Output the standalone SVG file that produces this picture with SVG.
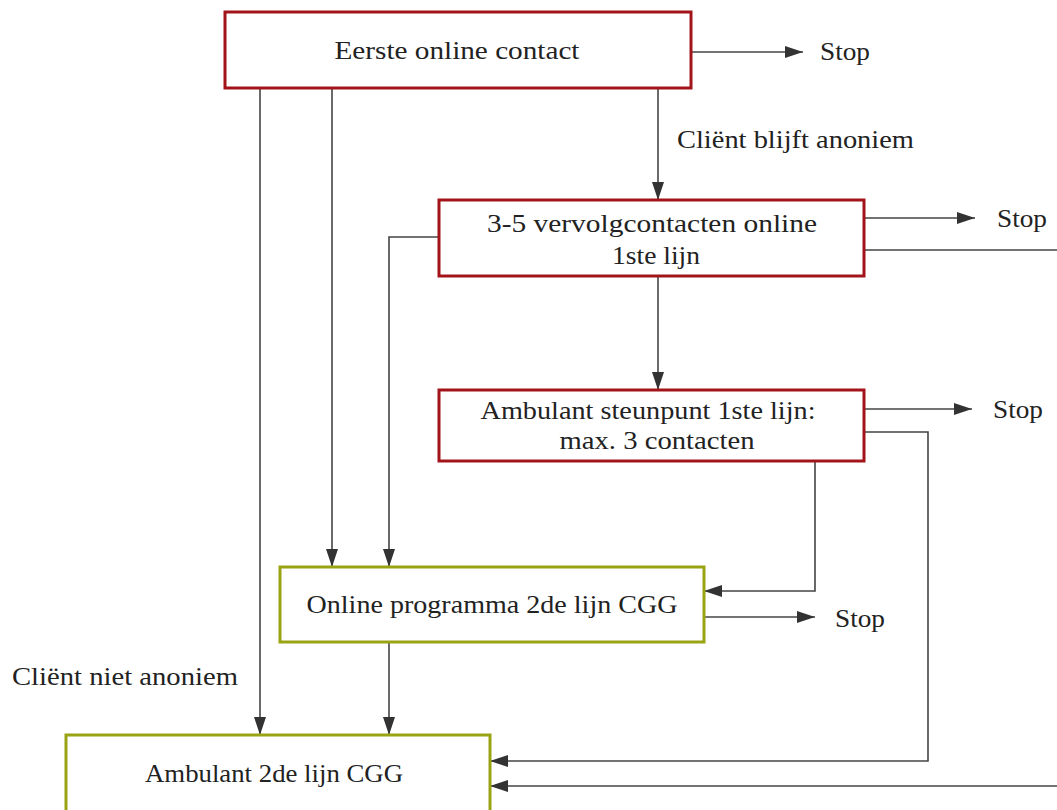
<svg xmlns="http://www.w3.org/2000/svg" width="1057" height="810" viewBox="0 0 1057 810">
<style>
.red{fill:#fff;stroke:#a3141a;stroke-width:3}
.grn{fill:#fff;stroke:#9aa312;stroke-width:3}
.t{font-family:"Liberation Serif",serif;font-size:26px;fill:#222;text-anchor:middle}
.l{font-family:"Liberation Serif",serif;font-size:26px;fill:#222}
.c{fill:none;stroke:#444;stroke-width:1.6}
</style>
<defs>
<marker id="a" viewBox="0 0 18 12" refX="18" refY="6" markerWidth="18" markerHeight="12" markerUnits="userSpaceOnUse" orient="auto">
<path d="M0,0 L18,6 L0,12 Z" fill="#333"/>
</marker>
</defs>
<rect width="1057" height="810" fill="#fff"/>
<g id="connectors">
<path class="c" d="M691,52 H803" marker-end="url(#a)"/>
<path class="c" d="M658,88 V200" marker-end="url(#a)"/>
<path class="c" d="M260,88 V735" marker-end="url(#a)"/>
<path class="c" d="M332,88 V567" marker-end="url(#a)"/>
<path class="c" d="M439,237 H389 V567" marker-end="url(#a)"/>
<path class="c" d="M864,218 H975" marker-end="url(#a)"/>
<path class="c" d="M864,250 H1060"/>
<path class="c" d="M1060,786 H490" marker-end="url(#a)"/>
<path class="c" d="M658,276 V390" marker-end="url(#a)"/>
<path class="c" d="M864,409 H972" marker-end="url(#a)"/>
<path class="c" d="M864,432 H928 V761 H490" marker-end="url(#a)"/>
<path class="c" d="M815,461 V591 H704" marker-end="url(#a)"/>
<path class="c" d="M704,617 H815" marker-end="url(#a)"/>
<path class="c" d="M389,642 V735" marker-end="url(#a)"/>
<text class="l" x="820" y="60" textLength="50" lengthAdjust="spacingAndGlyphs">Stop</text>
<text class="l" x="997" y="227" textLength="50" lengthAdjust="spacingAndGlyphs">Stop</text>
<text class="l" x="993" y="418" textLength="50" lengthAdjust="spacingAndGlyphs">Stop</text>
<text class="l" x="835" y="627" textLength="50" lengthAdjust="spacingAndGlyphs">Stop</text>
<text class="l" x="677" y="148" textLength="237" lengthAdjust="spacingAndGlyphs">Cliënt blijft anoniem</text>
<text class="l" x="12" y="685" textLength="226" lengthAdjust="spacingAndGlyphs">Cliënt niet anoniem</text>
</g>
<g id="n1"><rect class="red" x="225" y="12" width="466" height="76"/><text class="t" x="457" y="59" textLength="245" lengthAdjust="spacingAndGlyphs">Eerste online contact</text></g>
<g id="n2"><rect class="red" x="439" y="200" width="425" height="76"/><text class="t" x="652" y="232" textLength="330" lengthAdjust="spacingAndGlyphs">3-5 vervolgcontacten online</text><text class="t" x="656" y="264" textLength="88" lengthAdjust="spacingAndGlyphs">1ste lijn</text></g>
<g id="n3"><rect class="red" x="439" y="390" width="425" height="71"/><text class="t" x="648" y="419" textLength="335" lengthAdjust="spacingAndGlyphs">Ambulant steunpunt 1ste lijn:</text><text class="t" x="657" y="449" textLength="195" lengthAdjust="spacingAndGlyphs">max. 3 contacten</text></g>
<g id="n4"><rect class="grn" x="280" y="567" width="424" height="75"/><text class="t" x="492" y="613" textLength="371" lengthAdjust="spacingAndGlyphs">Online programma 2de lijn CGG</text></g>
<g id="n5"><rect class="grn" x="66" y="735" width="424" height="90"/><text class="t" x="274" y="782" textLength="258" lengthAdjust="spacingAndGlyphs">Ambulant 2de lijn CGG</text></g>
</svg>
